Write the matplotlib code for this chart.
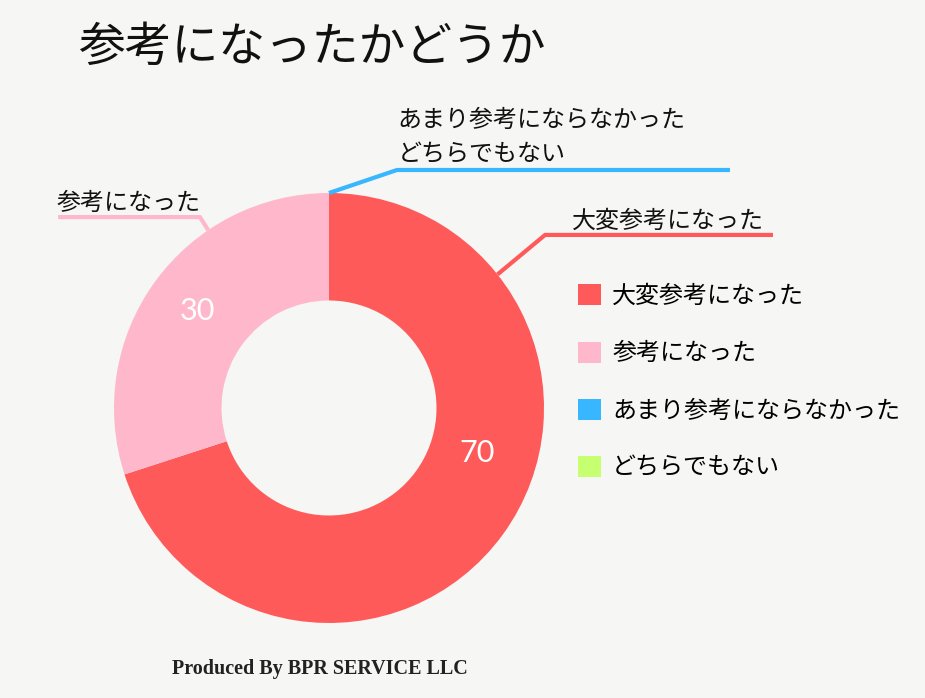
import numpy as np
import matplotlib.pyplot as plt
from matplotlib.patches import Patch

plt.rcParams['font.family'] = ['Noto Sans CJK JP', 'DejaVu Sans']

# データ
categories = ['大変参考になった', '参考になった', 'あまり参考にならなかった', 'どちらでもない']
values = [70, 30, 0, 0]
colors = ['#FF5A5A', '#FFB8CB', '#38B6FF', '#C6FF70']
title = '参考になったかどうか'
footer = 'Produced By BPR SERVICE LLC'
bg = '#F6F6F4'

W, H = 925, 698
fig = plt.figure(figsize=(W / 100, H / 100), dpi=100, facecolor=bg)

# ドーナツの位置 (中心 329,408 / 半径 215px)
cx, cy, R = 329, 408, 215
ax = fig.add_axes([(cx - R) / W, (H - cy - R) / H, 2 * R / W, 2 * R / H])
ax.set_facecolor(bg)
wedges, _ = ax.pie(values, colors=colors, startangle=90, counterclock=False,
                   radius=1.0, wedgeprops=dict(width=0.5, linewidth=0))
ax.set_xlim(-1, 1)
ax.set_ylim(-1, 1)
ax.set_aspect('equal')
ax.axis('off')

# 数値ラベル (角度, 半径)
num_pos = {0: (-17, 0.72), 1: (143.5, 0.76)}
for i, (ang, r) in num_pos.items():
    a = np.deg2rad(ang)
    ax.text(r * np.cos(a), r * np.sin(a), str(values[i]), color='white',
            fontsize=22, fontfamily=['Lato', 'DejaVu Sans'], fontweight='normal',
            ha='center', va='center')

# 引き出し線
leaders = [
    # 色, 始点角度, 肘, 終点x, テキスト, テキスト位置
    (colors[0], 38.4, (1.005, 0.805), 2.065, categories[0], (1.13, 0.812)),
    (colors[2], 90.0, (0.316, 1.107), 1.865, categories[2] + '\n' + categories[3], (0.32, 1.117)),
    (colors[1], 124.2, (-0.60, 0.888), -1.26, categories[1], (-1.265, 0.895)),
]
for col, ang, elbow, xend, txt, tpos in leaders:
    a = np.deg2rad(ang)
    xs = [np.cos(a), elbow[0], xend]
    ys = [np.sin(a), elbow[1], elbow[1]]
    ax.plot(xs, ys, color=col, lw=3, clip_on=False, solid_capstyle='butt')
    ax.text(tpos[0], tpos[1], txt, fontsize=17.3, color='#111111', ha='left',
            va='bottom', linespacing=1.45, clip_on=False)

# 凡例
handles = [Patch(facecolor=c, edgecolor='none') for c in colors]
fig.legend(handles, categories, loc='center left', bbox_to_anchor=(578 / W, (H - 382) / H),
           frameon=False, fontsize=17.3, handlelength=0.97, handleheight=0.97,
           handletextpad=0.45, labelspacing=1.3, borderpad=0, borderaxespad=0)

# タイトル・フッター
fig.text(78 / W, (H - 48) / H, title, fontsize=33.7, color='#111111', ha='left', va='center')
fig.text(320 / W, (H - 669) / H, footer, fontsize=14.5, fontweight='bold',
         fontfamily='Liberation Serif', color='#222222', ha='center', va='center')

fig.savefig('out.png', dpi=100, facecolor=bg)
